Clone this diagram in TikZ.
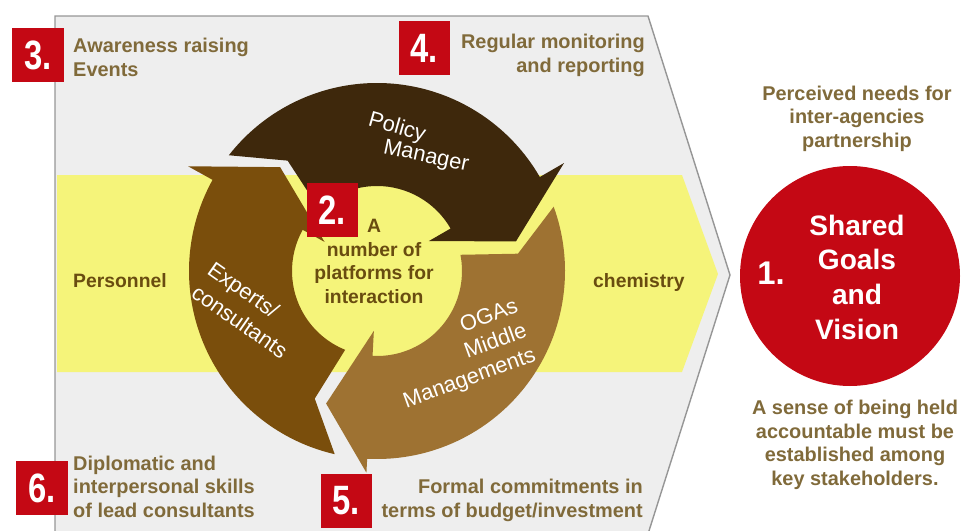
\documentclass[tikz,border=0pt]{standalone}
\usepackage{fontspec}
\setmainfont{Liberation Sans}
\usepackage{graphicx}
\usetikzlibrary{calc}

\definecolor{boxred}{RGB}{196,8,20}
\definecolor{panelgray}{RGB}{238,238,238}
\definecolor{panelline}{RGB}{150,150,150}
\definecolor{bandyellow}{RGB}{245,244,122}
\definecolor{policybrown}{RGB}{62,40,12}
\definecolor{expertbrown}{RGB}{122,78,12}
\definecolor{ogabrown}{RGB}{158,114,50}
\definecolor{notetext}{RGB}{128,106,58}
\definecolor{bandtext}{RGB}{105,76,16}

% radii of the cycle band
\def\rout{188}
\def\rin{85}
\def\rmid{142}
% one arc arrow: (tail outer : notch : tail inner : head base : outer barb)
\def\cyclearrow[#1](#2:#3:#4:#5:#6){\fill[#1] ($(hub)+(#2:\rout)$) arc[start angle=#2, end angle=#5, radius=\rout] -- ($(hub)+(#5:#6)$) -- ($(hub)+({#5-18}:\rmid)$) -- ($(hub)+(#5:60)$) -- ($(hub)+(#5:\rin)$) arc[start angle=#5, end angle=#4, radius=\rin] -- ($(hub)+(#3:\rmid)$) -- cycle;}
\def\numtext#1{\scalebox{0.8}[1]{#1}}

\tikzset{
	numbox/.style={fill=boxred, text=white, minimum width=1.53cm, minimum height=1.62cm, inner sep=0pt, font=\bfseries\fontsize{35}{35}\selectfont},
	note/.style={text=notetext, inner sep=0pt, font=\bfseries\fontsize{17}{20}\selectfont},
	bandlabel/.style={text=bandtext, inner sep=0pt, font=\bfseries\fontsize{16.5}{20}\selectfont},
	cyclelabel/.style={text=white, inner sep=0pt, font=\fontsize{18.7}{22}\selectfont},
	goaltext/.style={text=white, inner sep=0pt, font=\bfseries\fontsize{24}{29.5}\selectfont}
}

\begin{document}
\begin{tikzpicture}[x=0.03cm, y=0.03cm]
	\useasboundingbox (0,0) rectangle (969,-531);
	\clip (0,0) rectangle (969,-531);
	%%%%% BACKGROUND %%%%%
	\draw[fill=panelgray, draw=panelline, line width=1.2pt] (55,-16) -- (648,-16) -- (730,-275) -- (648,-534) -- (55,-534) -- cycle;
	\fill[bandyellow] (57,-175) -- (682,-175) -- (718,-274) -- (682,-372) -- (57,-372) -- cycle;
	
	%%%%% CYCLE %%%%%
	\coordinate (hub) at (377,-271);
	\cyclearrow[policybrown](142:129:133:30:216)
	\cyclearrow[ogabrown](20:7:11:-93:202)
	\cyclearrow[expertbrown](-103:-116:-112:-209:216)
	
	\node[cyclelabel, rotate=-16] (policy) at (397,-128) {Policy};
	\node[cyclelabel, rotate=-12] (manager) at (426,-157) {Manager};
	\node[cyclelabel, rotate=-35, align=left, font=\fontsize{18.7}{24}\selectfont] (experts) at (248,-310) {Experts/\\consultants};
	\node[cyclelabel, rotate=20, align=right] (ogas) at (461,-355) {OGAs\\Middle\\Managements};
	
	\node[bandlabel, anchor=base west] (personnel) at (73,-287) {Personnel};
	\node[bandlabel, anchor=base west] (chemistry) at (593,-287) {chemistry};
	% multi-line nodes sit on the baseline of their last line
	\node[bandlabel, anchor=base, align=center] (platforms) at (374,-303) {A\\number of\\platforms for\\interaction};
	
	%%%%% NOTES %%%%%
	\node[note, anchor=base west, align=left] (awareness) at (73,-76) {Awareness raising\\Events};
	\node[note, anchor=base east, align=right] (monitoring) at (645,-72) {Regular monitoring\\and reporting};
	\node[note, anchor=base west, align=left] (diplomatic) at (73,-517) {Diplomatic and\\interpersonal skills\\of lead consultants};
	\node[note, anchor=base east, align=right] (formal) at (643,-517) {Formal commitments in\\terms of budget/investment};
	\node[note, anchor=base, align=center] (perceived) at (857,-147) {Perceived needs for\\inter-agencies\\partnership};
	\node[note, anchor=base, align=center] (accountable) at (855,-485) {A sense of being held\\accountable must be\\established among\\key stakeholders.};
	
	%%%%% GOAL %%%%%
	\fill[boxred] (850,-276) circle (110);
	\node[goaltext, anchor=base, align=center] (goal) at (857,-339) {Shared\\Goals\\and\\Vision};
	\node[goaltext, anchor=base, font=\bfseries\fontsize{28}{28}\selectfont] (one) at (771,-284) {1.};
	
	%%%%% NUMBERS %%%%%
	\node[numbox] (n2) at (332,-210) {\numtext{2.}};
	\node[numbox] (n3) at (38,-55) {\numtext{3.}};
	\node[numbox] (n4) at (424,-48) {\numtext{4.}};
	\node[numbox] (n5) at (346,-501) {\numtext{5.}};
	\node[numbox] (n6) at (42,-488) {\numtext{6.}};
\end{tikzpicture}
\end{document}
